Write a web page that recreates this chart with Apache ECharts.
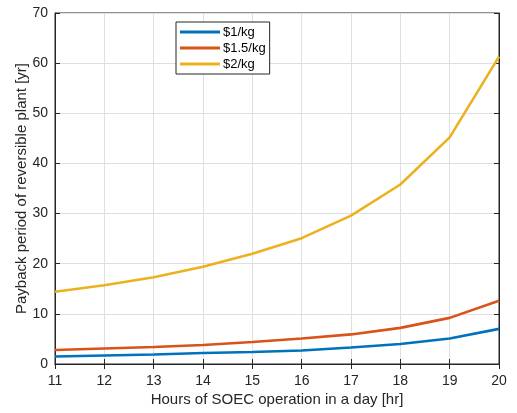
<!DOCTYPE html>
<html>
<head>
<meta charset="utf-8">
<script src="https://cdn.jsdelivr.net/npm/echarts@6/dist/echarts.min.js"></script>
<style>
  html, body { margin: 0; padding: 0; background: #fff; }
  #chart { width: 517px; height: 413px; }
</style>
</head>
<body>
<div id="chart"></div>
<script>
// Hours of SOEC operation per day
const hours = [11, 12, 13, 14, 15, 16, 17, 18, 19, 20];

// Payback period [yr] for each hydrogen price
const price1 = [1.5, 1.7, 1.9, 2.2, 2.4, 2.7, 3.3, 4.0, 5.1, 7.0];
const price15 = [2.8, 3.1, 3.4, 3.8, 4.4, 5.1, 5.9, 7.2, 9.2, 12.6];
const price2 = [14.4, 15.7, 17.3, 19.4, 22.0, 25.1, 29.6, 35.8, 45.2, 61.3];

const seriesNames = ['$1/kg', '$1.5/kg', '$2/kg'];
const colors = ['#0072BD', '#D95319', '#EDB120'];

const font = 'Liberation Sans, Arial, Helvetica, sans-serif';
const ink = '#262626';

function pairs(vals) {
  return hours.map((h, i) => [h, vals[i]]);
}

function lineSeries(name, vals, color) {
  return {
    name: name,
    type: 'line',
    data: pairs(vals),
    showSymbol: false,
    symbol: 'none',
    lineStyle: { color: color, width: 2.6 },
    itemStyle: { color: color },
    animation: false
  };
}

const chart = echarts.init(document.getElementById('chart'));
chart.setOption({
  backgroundColor: '#fff',
  animation: false,
  grid: {
    left: 55, right: 18, top: 13, bottom: 49,
    outerBoundsMode: 'none',
    show: true, borderColor: ink, borderWidth: 1, backgroundColor: '#fff'
  },
  legend: {
    orient: 'vertical',
    left: 176, top: 22,
    data: seriesNames,
    icon: 'rect',
    itemWidth: 40, itemHeight: 3, itemGap: 0,
    padding: [2, 4, 2, 4],
    borderColor: ink, borderWidth: 1, borderRadius: 0,
    backgroundColor: '#fff',
    textStyle: { fontFamily: font, fontSize: 13, color: '#000', lineHeight: 16, padding: [0, 0, 0, -2] }
  },
  xAxis: [{
    type: 'value', min: 11, max: 20, interval: 1,
    name: 'Hours of SOEC operation in a day [hr]',
    nameLocation: 'middle', nameGap: 28, nameMoveOverlap: false,
    nameTextStyle: { fontFamily: font, fontSize: 15, color: ink },
    axisLine: { show: true, lineStyle: { color: ink, width: 1 } },
    axisTick: { show: true, inside: true, length: 5, lineStyle: { color: ink } },
    axisLabel: { fontFamily: font, fontSize: 14, color: ink, margin: 10 },
    splitLine: { show: true, lineStyle: { color: '#dfdfdf', width: 1 } }
  }, {
    type: 'value', min: 11, max: 20, interval: 1, position: 'top',
    axisLine: { show: true, lineStyle: { color: ink, width: 1 } },
    axisTick: { show: true, inside: true, length: 5, lineStyle: { color: ink } },
    axisLabel: { show: false },
    splitLine: { show: false }
  }],
  yAxis: [{
    type: 'value', min: 0, max: 70, interval: 10,
    name: 'Payback period of reversible plant [yr]',
    nameLocation: 'middle', nameGap: 26, nameRotate: 90, nameMoveOverlap: false,
    nameTextStyle: { fontFamily: font, fontSize: 15, color: ink },
    axisLine: { show: true, lineStyle: { color: ink, width: 1 } },
    axisTick: { show: true, inside: true, length: 5, lineStyle: { color: ink } },
    axisLabel: { fontFamily: font, fontSize: 14, color: ink, margin: 7 },
    splitLine: { show: true, lineStyle: { color: '#dfdfdf', width: 1 } }
  }, {
    type: 'value', min: 0, max: 70, interval: 10, position: 'right',
    axisLine: { show: true, lineStyle: { color: ink, width: 1 } },
    axisTick: { show: true, inside: true, length: 5, lineStyle: { color: ink } },
    axisLabel: { show: false },
    splitLine: { show: false }
  }],
  series: [
    lineSeries(seriesNames[0], price1, colors[0]),
    lineSeries(seriesNames[1], price15, colors[1]),
    lineSeries(seriesNames[2], price2, colors[2])
  ]
});
</script>
</body>
</html>
